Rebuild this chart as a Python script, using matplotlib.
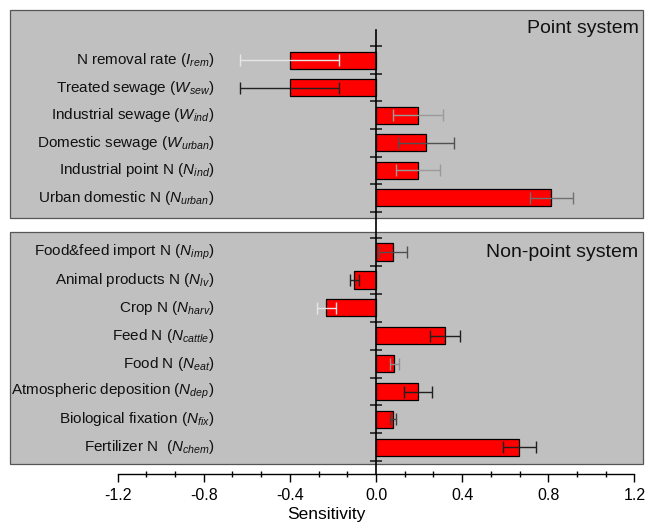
import matplotlib.pyplot as plt
from matplotlib.patches import Rectangle
from matplotlib.ticker import FixedLocator

plt.rcParams['font.family'] = ['Liberation Sans', 'DejaVu Sans']
plt.rcParams['mathtext.fontset'] = 'custom'
plt.rcParams['mathtext.it'] = 'Liberation Sans:italic'
plt.rcParams['mathtext.rm'] = 'Liberation Sans'

# point system (top panel)
point_labels = [r'N removal rate ($I_{rem}$)', r'Treated sewage ($W_{sew}$)',
                r'Industrial sewage ($W_{ind}$)', r'Domestic sewage ($W_{urban}$)',
                r'Industrial point N ($N_{ind}$)', r'Urban domestic N ($N_{urban}$)']
point_vals = [-0.40, -0.40, 0.195, 0.23, 0.195, 0.815]
point_err = [0.23, 0.23, 0.115, 0.13, 0.10, 0.10]
point_ecol = ['#e6e6e6', '#202020', '#9a9a9a', '#505050', '#9a9a9a', '#707070']

# non-point system (bottom panel)
nonpoint_labels = [r'Food&feed import N ($N_{imp}$)', r'Animal products N ($N_{lv}$)',
                   r'Crop N ($N_{harv}$)', r'Feed N ($N_{cattle}$)', r'Food N ($N_{eat}$)',
                   r'Atmospheric deposition ($N_{dep}$)', r'Biological fixation ($N_{fix}$)',
                   r'Fertilizer N  ($N_{chem}$)']
nonpoint_vals = [0.08, -0.10, -0.23, 0.32, 0.085, 0.195, 0.08, 0.665]
nonpoint_err = [0.065, 0.02, 0.045, 0.07, 0.02, 0.065, 0.015, 0.077]
nonpoint_ecol = ['#505050', '#202020', '#e6e6e6', '#202020', '#909090', '#202020', '#404040', '#202020']

xticks = [-1.2, -0.8, -0.4, 0.0, 0.4, 0.8, 1.2]
# two minor ticks between each pair of major ticks
xminor = [a + (b - a) * k / 3 for a, b in zip(xticks[:-1], xticks[1:]) for k in (1, 2)]

XMIN, XMAX = -1.70, 1.24
W, H = 650, 523
fig = plt.figure(figsize=(6.5, 5.23), dpi=100)


def panel(rect, labels, vals, errs, ecols, ylim, title):
    ax = fig.add_axes(rect)
    ax.set_facecolor('#c0c0c0')
    n = len(labels)
    ys = list(range(n))
    ax.barh(ys, vals, height=0.62, color='#ff0000', edgecolor='black', linewidth=0.9, zorder=2)
    for y, v, e, c in zip(ys, vals, errs, ecols):
        ax.errorbar(v, y, xerr=e, fmt='none', ecolor=c, elinewidth=1.0,
                    capsize=4, capthick=1.0, zorder=3)
    for y, lab in zip(ys, labels):
        ax.text(-0.75, y, lab, ha='right', va='center', fontsize=11, color='#111111')
    ax.set_xlim(XMIN, XMAX)
    ax.set_ylim(*ylim)
    for s in ax.spines.values():
        s.set_visible(False)
    ax.spines['left'].set_position(('data', 0))
    ax.set_yticks([i - 0.5 for i in range(n + 1)])
    ax.set_yticklabels([])
    ax.tick_params(axis='y', direction='inout', length=8, width=1.2, color='#222222')
    ax.set_xticks([])
    ax.add_patch(Rectangle((0, 0), 1, 1, transform=ax.transAxes, fill=False,
                           edgecolor='#555555', linewidth=0.9, clip_on=False, zorder=5))
    ax.text(0.993, 0.95, title, transform=ax.transAxes, ha='right', va='top',
            fontsize=14, color='#111111')
    return ax


panel([10 / W, 1 - 218 / H, 633 / W, 208 / H], point_labels, point_vals, point_err,
      point_ecol, (5.73, -1.82), 'Point system')
panel([10 / W, 1 - 464 / H, 633 / W, 232 / H], nonpoint_labels, nonpoint_vals, nonpoint_err,
      nonpoint_ecol, (7.6, -0.72), 'Non-point system')

# overlay: zero line + sensitivity axis
axx = fig.add_axes([10 / W, 1 - 474 / H, 633 / W, (474 - 30) / H])
axx.patch.set_alpha(0)
axx.set_xlim(XMIN, XMAX)
axx.set_yticks([])
for s in ['top', 'right']:
    axx.spines[s].set_visible(False)
axx.spines['left'].set_position(('data', 0))
axx.spines['left'].set_linewidth(1.2)
axx.spines['bottom'].set_bounds(-1.2, 1.2)
axx.spines['bottom'].set_linewidth(1.0)
axx.set_xticks(xticks)
axx.set_xticklabels([f'{t:.1f}' for t in xticks])
axx.xaxis.set_minor_locator(FixedLocator(xminor))
axx.tick_params(axis='x', which='major', direction='out', length=5.5, width=1.0,
                labelsize=11.5, pad=4.5)
axx.tick_params(axis='x', which='minor', direction='inout', length=4, width=1.0)
axx.set_xlabel('Sensitivity', fontsize=12.5, labelpad=3)

fig.savefig('out.png', dpi=100)
